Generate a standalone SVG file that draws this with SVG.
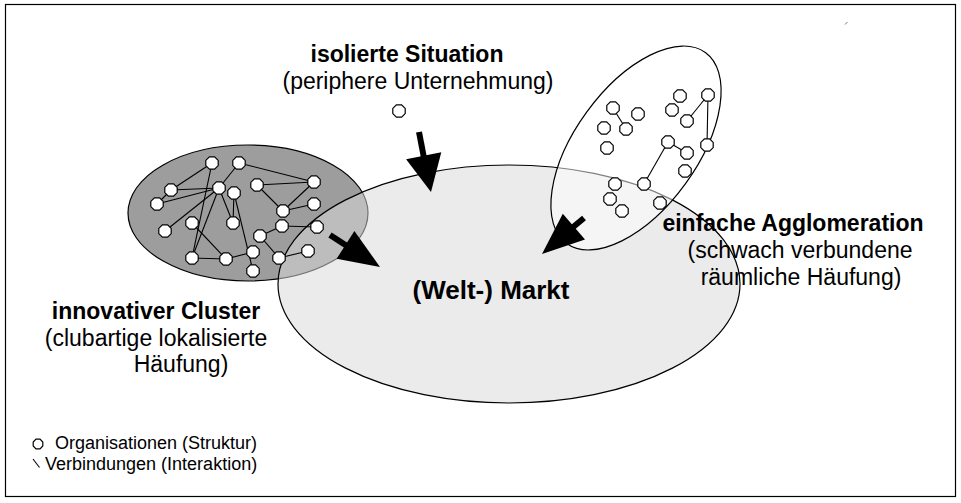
<svg xmlns="http://www.w3.org/2000/svg" xmlns:xlink="http://www.w3.org/1999/xlink" width="961" height="503" viewBox="0 0 961 503">
  <style>
    .frame { fill: #ffffff; stroke: #000000; stroke-width: 1.2; }
    .outline { stroke: #000000; stroke-width: 1.2; }
    .edge { stroke: #000000; stroke-width: 1.1; fill: none; }
    .node { fill: #ffffff; stroke: #000000; stroke-width: 1.2; }
    .shaft { stroke: #000000; stroke-width: 6; }
    .head { fill: #000000; }
    .t { font-family: "Liberation Sans", Arial, sans-serif; fill: #000000; text-anchor: middle; }
    .b { font-weight: bold; }
    .lab { font-size: 23px; }
    .big { font-size: 26px; }
    .leg { font-family: "Liberation Sans", Arial, sans-serif; font-size: 18px; fill: #000000; }
  </style>
  <defs>
    <polygon id="oct" points="-2.6,-6.2 2.6,-6.2 6.2,-2.6 6.2,2.6 2.6,6.2 -2.6,6.2 -6.2,2.6 -6.2,-2.6"/>
    <polygon id="octS" points="-2,-4.8 2,-4.8 4.8,-2 4.8,2 2,4.8 -2,4.8 -4.8,2 -4.8,-2"/>
  </defs>

  <rect class="frame" x="5.5" y="4.5" width="950" height="492"/>
  <!-- tiny tick in the upper right -->
  <line x1="845" y1="24.5" x2="847.5" y2="22" stroke="#777777" stroke-width="1"/>

  <!-- regions -->
  <g id="cluster-area">
    <ellipse class="outline" cx="248" cy="213" rx="120" ry="68" fill="#9d9d9d"/>
  </g>
  <g id="market">
    <ellipse class="outline" cx="509" cy="284" rx="231" ry="119" fill="#d9d9d9" fill-opacity="0.53"/>
  </g>
  <g id="agglomeration-area">
    <ellipse class="outline" cx="636" cy="148" rx="118" ry="61" fill="#ffffff" fill-opacity="0.5" transform="rotate(-54 636 148)"/>
  </g>

  <!-- connectors -->
  <g id="connectors">
    <!-- innovative cluster links -->
    <line class="edge" x1="212" y1="163" x2="171" y2="190"/>
    <line class="edge" x1="212" y1="163" x2="192" y2="258"/>
    <line class="edge" x1="239" y1="163" x2="219" y2="188"/>
    <line class="edge" x1="239" y1="163" x2="314" y2="182"/>
    <line class="edge" x1="171" y1="190" x2="219" y2="188"/>
    <line class="edge" x1="157" y1="204" x2="219" y2="188"/>
    <line class="edge" x1="157" y1="204" x2="171" y2="190"/>
    <line class="edge" x1="219" y1="188" x2="165" y2="231"/>
    <line class="edge" x1="219" y1="188" x2="233" y2="223"/>
    <line class="edge" x1="219" y1="188" x2="192" y2="258"/>
    <line class="edge" x1="234" y1="193" x2="233" y2="223"/>
    <line class="edge" x1="234" y1="193" x2="253" y2="271"/>
    <line class="edge" x1="257" y1="185" x2="314" y2="182"/>
    <line class="edge" x1="257" y1="185" x2="283" y2="211"/>
    <line class="edge" x1="314" y1="182" x2="283" y2="211"/>
    <line class="edge" x1="283" y1="211" x2="314" y2="204"/>
    <line class="edge" x1="192" y1="223" x2="226" y2="259"/>
    <line class="edge" x1="192" y1="258" x2="226" y2="259"/>
    <line class="edge" x1="226" y1="259" x2="253" y2="252"/>
    <line class="edge" x1="260" y1="236" x2="282" y2="226"/>
    <line class="edge" x1="282" y1="226" x2="317" y2="227"/>
    <line class="edge" x1="260" y1="236" x2="279" y2="258"/>
    <line class="edge" x1="279" y1="258" x2="308" y2="251"/>
    <!-- agglomeration links -->
    <line class="edge" x1="613" y1="108" x2="626" y2="129"/>
    <line class="edge" x1="687" y1="121" x2="708" y2="95"/>
    <line class="edge" x1="708" y1="95" x2="707" y2="145"/>
    <line class="edge" x1="668" y1="142" x2="644" y2="184"/>
    <line class="edge" x1="668" y1="142" x2="687" y2="153"/>
    <!-- arrows towards the market -->
    <g id="arrow-top">
      <line class="shaft" x1="419" y1="132" x2="424" y2="158"/>
      <polygon class="head" points="431,192 441.3,152.2 406.1,159.2"/>
    </g>
    <g id="arrow-left">
      <line class="shaft" x1="330" y1="235" x2="347" y2="246"/>
      <polygon class="head" points="380,267 354.4,231 336.6,258.8"/>
    </g>
    <g id="arrow-right">
      <line class="shaft" x1="584" y1="218" x2="572" y2="228"/>
      <polygon class="head" points="542,254 585,239.6 562.8,213.8"/>
    </g>
  </g>

  <!-- organisations: innovative cluster -->
  <g id="cluster-nodes" class="node">
    <use href="#oct" x="212" y="163"/>
    <use href="#oct" x="239" y="163"/>
    <use href="#oct" x="171" y="190"/>
    <use href="#oct" x="157" y="204"/>
    <use href="#oct" x="219" y="188"/>
    <use href="#oct" x="234" y="193"/>
    <use href="#oct" x="257" y="185"/>
    <use href="#oct" x="314" y="182"/>
    <use href="#oct" x="283" y="211"/>
    <use href="#oct" x="314" y="204"/>
    <use href="#oct" x="165" y="231"/>
    <use href="#oct" x="192" y="223"/>
    <use href="#oct" x="233" y="223"/>
    <use href="#oct" x="282" y="226"/>
    <use href="#oct" x="317" y="227"/>
    <use href="#oct" x="260" y="236"/>
    <use href="#oct" x="192" y="258"/>
    <use href="#oct" x="226" y="259"/>
    <use href="#oct" x="253" y="252"/>
    <use href="#oct" x="279" y="258"/>
    <use href="#oct" x="308" y="251"/>
    <use href="#oct" x="253" y="271"/>
  </g>

  <!-- organisations: simple agglomeration -->
  <g id="agglomeration-nodes" class="node">
    <use href="#oct" x="680" y="96"/>
    <use href="#oct" x="708" y="95"/>
    <use href="#oct" x="613" y="108"/>
    <use href="#oct" x="638" y="114"/>
    <use href="#oct" x="672" y="110"/>
    <use href="#oct" x="687" y="121"/>
    <use href="#oct" x="604" y="128"/>
    <use href="#oct" x="626" y="129"/>
    <use href="#oct" x="668" y="142"/>
    <use href="#oct" x="707" y="145"/>
    <use href="#oct" x="607" y="148"/>
    <use href="#oct" x="687" y="153"/>
    <use href="#oct" x="685" y="171"/>
    <use href="#oct" x="615" y="184"/>
    <use href="#oct" x="644" y="184"/>
    <use href="#oct" x="610" y="199"/>
    <use href="#oct" x="660" y="203"/>
    <use href="#oct" x="622" y="211"/>
  </g>

  <!-- isolated firm -->
  <g id="isolated-node" class="node">
    <use href="#oct" x="399" y="111"/>
  </g>

  <!-- labels -->
  <g id="label-isolated">
    <text class="t b lab" x="407" y="62">isolierte Situation</text>
    <text class="t lab" x="418" y="89">(periphere Unternehmung)</text>
  </g>
  <g id="label-market">
    <text class="t b big" x="491" y="299">(Welt-) Markt</text>
  </g>
  <g id="label-cluster">
    <text class="t b lab" x="156" y="319">innovativer Cluster</text>
    <text class="t lab" x="156" y="346">(clubartige lokalisierte</text>
    <text class="t lab" x="181" y="372">Häufung)</text>
  </g>
  <g id="label-agglomeration">
    <text class="t b lab" x="793" y="231">einfache Agglomeration</text>
    <text class="t lab" x="800" y="258">(schwach verbundene</text>
    <text class="t lab" x="801" y="285">räumliche Häufung)</text>
  </g>

  <!-- legend -->
  <g id="legend">
    <use href="#octS" x="38" y="444" class="node"/>
    <text class="leg" x="55" y="449">Organisationen (Struktur)</text>
    <line class="edge" x1="33" y1="459" x2="39.5" y2="467.5"/>
    <text class="leg" x="45" y="470">Verbindungen (Interaktion)</text>
  </g>
</svg>
